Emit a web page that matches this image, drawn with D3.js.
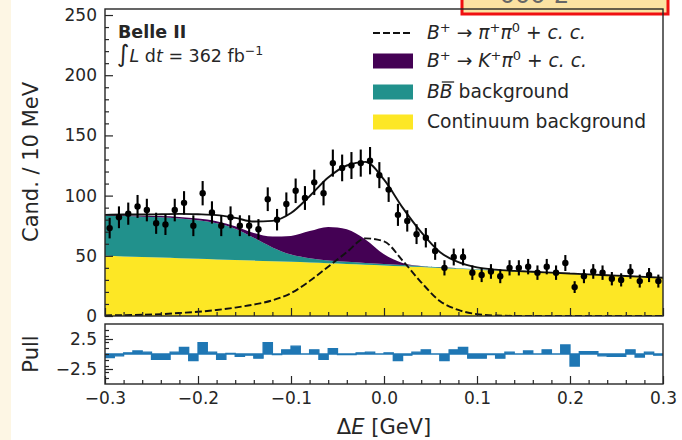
<!DOCTYPE html>
<html>
<head>
<meta charset="utf-8">
<script src="https://cdn.jsdelivr.net/npm/d3@7"></script>
<style>
  body { margin: 0; background: #fff; }
  svg { font-family: "DejaVu Sans", sans-serif; display: block; }
</style>
</head>
<body>
<svg id="chart" width="682" height="440"></svg>
<script>
// measured candidates per 10 MeV bin, delta E from -0.3 to 0.3 GeV
var counts = [73, 82, 85, 91, 88, 77, 76, 88, 94, 75,
              102, 86, 75, 82, 75, 75, 72, 97, 80, 93,
              104, 98, 111, 102, 127, 123, 125, 127, 129, 117,
              105, 84, 79, 68, 65, 54, 40, 49, 49, 36,
              34, 37, 33, 40, 40, 41, 36, 41, 36, 44,
              24, 33, 37, 36, 31, 30, 37, 29, 34, 29];

// pulls per bin
var pulls = [-0.6, -0.3, 0.2, 0.5, 0.3, -0.9, -0.9, 0.3, 1.1, -1.1,
             1.9, 0.3, -0.9, 0.1, -0.4, -0.2, -0.7, 1.9, -0.1, 0.7,
             1.3, 0.0, 0.7, -0.9, 0.9, -0.1, -0.1, 0.2, 0.3, 0.0,
             0.2, -1.1, -0.2, 0.3, 0.7, 0.0, -1.1, 0.7, 1.1, -0.7,
             -0.7, -0.1, -0.7, 0.3, 0.0, 0.5, 0.0, 0.7, 0.0, 1.5,
             -2.0, 0.4, 0.4, -0.3, -0.4, -0.4, 0.7, -0.5, 0.3, -0.2];

// fit components sampled every 20 MeV
var fitX = [-0.30, -0.28, -0.26, -0.24, -0.22, -0.20, -0.18, -0.16, -0.14, -0.12,
            -0.10, -0.08, -0.06, -0.04, -0.02, 0.00, 0.02, 0.04, 0.06, 0.08,
            0.10, 0.12, 0.14, 0.16, 0.18, 0.20, 0.22, 0.24, 0.26, 0.28, 0.30];
var continuum = [50.0, 49.5, 49.0, 48.5, 48.0, 47.5, 47.0, 46.5, 46.0, 45.5,
                 45.0, 44.4, 43.8, 43.2, 42.6, 42.0, 41.3, 40.6, 39.9, 39.2,
                 38.5, 37.8, 37.1, 36.4, 35.7, 35.0, 34.3, 33.6, 32.9, 32.2, 31.5];
var bbBkg = [33.0, 33.5, 33.5, 33.5, 33.0, 32.0, 30.0, 26.0, 19.0, 11.5,
             6.0, 3.6, 2.2, 1.8, 1.4, 1.2, 1.0, 0.8, 0.6, 0.5,
             0.4, 0.3, 0.3, 0.3, 0.3, 0.3, 0.3, 0.3, 0.3, 0.3, 0.3];
var kpi = [0.5, 0.6, 0.8, 1.0, 1.3, 1.5, 1.8, 2.0, 4.0, 9.0,
           15.5, 22.5, 28.0, 27.0, 19.5, 8.0, 1.7, 0.2, 0.1, 0,
           0, 0, 0, 0, 0, 0, 0, 0, 0, 0, 0];
var pipi = [0.5, 0.7, 1.0, 1.5, 2.5, 3.5, 5.0, 7.0, 9.5, 13.0,
            19.0, 29.0, 41.0, 53.0, 64.5, 62.0, 46.0, 28.0, 12.5, 5.0,
            1.5, 0.4, 0.1, 0, 0, 0, 0, 0, 0, 0, 0];

var yTicks = [0, 50, 100, 150, 200, 250];
var xTicks = [-0.3, -0.2, -0.1, 0.0, 0.1, 0.2, 0.3];
var pullTicks = [-2.5, 2.5];

var svg = d3.select("#chart");
var ink = "#262626";
var dash = "7,3";

var x = d3.scaleLinear().domain([-0.3, 0.3]).range([105, 663]);
var y = d3.scaleLinear().domain([0, 255]).range([316, 9]);
var yp = d3.scaleLinear().domain([-5, 5]).range([384, 324]);

// page background bits
svg.append("rect").attr("width", 682).attr("height", 440).attr("fill", "#fff");
svg.append("rect").attr("width", 11).attr("height", 440).attr("fill", "#fdf6e4");
svg.append("rect").attr("x", 462).attr("y", -6).attr("width", 206).attr("height", 20)
  .attr("fill", "#fbe2a2").attr("stroke", "#f01010").attr("stroke-width", 3);
svg.append("text").attr("x", 500).attr("y", 3).attr("font-size", 24).attr("fill", "#666")
  .text("σσσ Σ");

var defs = svg.append("defs");
defs.append("clipPath").attr("id", "clipMain").append("rect")
  .attr("x", 105).attr("y", 9).attr("width", 558).attr("height", 307);
defs.append("clipPath").attr("id", "clipPull").append("rect")
  .attr("x", 105).attr("y", 324).attr("width", 558).attr("height", 60);

// stacked fit components
var rows = fitX.map(function(v, i) {
  return {x: v, continuum: continuum[i], bb: bbBkg[i], kpi: kpi[i]};
});
var stack = d3.stack().keys(["continuum", "bb", "kpi"]);
var colors = {continuum: "#fde725", bb: "#21918c", kpi: "#440154"};

var area = d3.area()
  .x(function(d) { return x(d.data.x); })
  .y0(function(d) { return y(d[0]); })
  .y1(function(d) { return y(d[1]); })
  .curve(d3.curveMonotoneX);

var main = svg.append("g").attr("clip-path", "url(#clipMain)");
main.selectAll("path.comp")
  .data(stack(rows))
  .enter().append("path")
  .attr("class", "comp")
  .attr("d", area)
  .attr("fill", function(d) { return colors[d.key]; });

var line = d3.line()
  .x(function(d) { return x(d[0]); })
  .y(function(d) { return y(d[1]); })
  .curve(d3.curveMonotoneX);

main.append("path")
  .attr("d", line(fitX.map(function(v, i) { return [v, pipi[i]]; })))
  .attr("fill", "none").attr("stroke", "#111").attr("stroke-width", 1.9)
  .attr("stroke-dasharray", dash);

main.append("path")
  .attr("d", line(fitX.map(function(v, i) {
    return [v, continuum[i] + bbBkg[i] + kpi[i] + pipi[i]];
  })))
  .attr("fill", "none").attr("stroke", "#111").attr("stroke-width", 1.9);

// data points
var bins = counts.map(function(c, i) {
  return {x: -0.295 + 0.01 * i, n: c, err: Math.sqrt(c), pull: pulls[i]};
});
main.selectAll("line.err")
  .data(bins)
  .enter().append("line")
  .attr("class", "err")
  .attr("x1", function(d) { return x(d.x); })
  .attr("x2", function(d) { return x(d.x); })
  .attr("y1", function(d) { return y(d.n - d.err); })
  .attr("y2", function(d) { return y(d.n + d.err); })
  .attr("stroke", "#000").attr("stroke-width", 2.1);
main.selectAll("circle.pt")
  .data(bins)
  .enter().append("circle")
  .attr("class", "pt")
  .attr("cx", function(d) { return x(d.x); })
  .attr("cy", function(d) { return y(d.n); })
  .attr("r", 3.2)
  .attr("fill", "#000");

// pull panel, step filled histogram
var steps = [];
bins.forEach(function(d) {
  steps.push([d.x - 0.005, d.pull]);
  steps.push([d.x + 0.005, d.pull]);
});
var pullArea = d3.area()
  .x(function(d) { return x(d[0]); })
  .y0(yp(0))
  .y1(function(d) { return yp(d[1]); });
svg.append("g").attr("clip-path", "url(#clipPull)")
  .append("path")
  .attr("d", pullArea(steps))
  .attr("fill", "#1f77b4").attr("stroke", "#1f77b4").attr("stroke-width", 1.3)
  .attr("stroke-linejoin", "miter");

// axes, ticks pointing inwards
function styleAxis(g) {
  g.select(".domain").remove();
  g.selectAll(".tick line").attr("stroke", ink).attr("stroke-width", 1.2);
  g.selectAll(".tick text").attr("fill", ink).attr("font-size", 17)
    .attr("font-family", "DejaVu Sans");
}

var minorY = d3.range(0, 256, 10).filter(function(v) { return v % 50 !== 0; });
var minorX = d3.range(-14, 15).map(function(k) { return k * 0.02; })
  .filter(function(v) { return Math.abs(Math.round(v * 10) - v * 10) > 1e-6; });
var minorP = [-4, -3, -2, -1, 0, 1, 2, 3, 4];

svg.append("g").attr("transform", "translate(105,0)")
  .call(d3.axisLeft(y).tickValues(yTicks).tickSize(-8).tickPadding(8))
  .call(styleAxis);
svg.append("g").attr("transform", "translate(105,0)")
  .call(d3.axisLeft(y).tickValues(minorY).tickSize(-4).tickFormat(""))
  .call(styleAxis);
svg.append("g").attr("transform", "translate(0,316)")
  .call(d3.axisBottom(x).tickValues(xTicks).tickSize(-8).tickFormat(""))
  .call(styleAxis);
svg.append("g").attr("transform", "translate(0,316)")
  .call(d3.axisBottom(x).tickValues(minorX).tickSize(-4).tickFormat(""))
  .call(styleAxis);

svg.append("g").attr("transform", "translate(105,0)")
  .call(d3.axisLeft(yp).tickValues(pullTicks).tickSize(-8).tickPadding(8).tickFormat(d3.format(".1f")))
  .call(styleAxis);
svg.append("g").attr("transform", "translate(105,0)")
  .call(d3.axisLeft(yp).tickValues(minorP).tickSize(-4).tickFormat(""))
  .call(styleAxis);
svg.append("g").attr("transform", "translate(0,384)")
  .call(d3.axisBottom(x).tickValues(xTicks).tickSize(-8).tickPadding(8).tickFormat(d3.format(".1f")))
  .call(styleAxis);
svg.append("g").attr("transform", "translate(0,384)")
  .call(d3.axisBottom(x).tickValues(minorX).tickSize(-4).tickFormat(""))
  .call(styleAxis);

// spines
[[9, 316], [324, 384]].forEach(function(p) {
  svg.append("rect").attr("x", 105).attr("y", p[0]).attr("width", 558).attr("height", p[1] - p[0])
    .attr("fill", "none").attr("stroke", ink).attr("stroke-width", 1.4);
});

// axis titles
svg.append("text").attr("transform", "translate(38,162) rotate(-90)")
  .attr("text-anchor", "middle").attr("font-size", 21).attr("fill", ink)
  .text("Cand. / 10 MeV");
svg.append("text").attr("transform", "translate(38,354) rotate(-90)")
  .attr("text-anchor", "middle").attr("font-size", 21).attr("fill", ink)
  .text("Pull");
var xt = svg.append("text").attr("x", 384).attr("y", 434).attr("text-anchor", "middle")
  .attr("font-size", 21).attr("fill", ink);
xt.append("tspan").text("Δ");
xt.append("tspan").attr("font-style", "italic").text("E");
xt.append("tspan").text(" [GeV]");

// experiment labels
svg.append("text").attr("x", 118).attr("y", 38).attr("font-size", 17.5).attr("font-weight", "bold")
  .attr("fill", ink).text("Belle II");
var lumi = svg.append("text").attr("x", 117).attr("y", 62).attr("font-size", 17.5).attr("fill", ink);
lumi.append("tspan").attr("font-size", 24).text("∫");
lumi.append("tspan").attr("font-style", "italic").text("L");
lumi.append("tspan").text(" d");
lumi.append("tspan").attr("font-style", "italic").text("t");
lumi.append("tspan").text(" = 362 fb");
lumi.append("tspan").attr("font-size", 12.5).attr("dy", -7.5).text("−1");

// legend
var legend = svg.append("g").attr("font-size", 18.7).attr("fill", ink);
legend.append("line").attr("x1", 373).attr("x2", 413).attr("y1", 33).attr("y2", 33)
  .attr("stroke", "#111").attr("stroke-width", 1.9).attr("stroke-dasharray", dash);
[["#440154", 61], ["#21918c", 92], ["#fde725", 122]].forEach(function(s) {
  legend.append("rect").attr("x", 373).attr("y", s[1] - 7.5).attr("width", 40).attr("height", 15)
    .attr("fill", s[0]);
});
// parts: [text, "i" italic | "s" superscript | "" plain]
function mathLabel(yy, parts) {
  var t = legend.append("text").attr("x", 427).attr("y", yy);
  var up = false;
  parts.forEach(function(p) {
    var ts = t.append("tspan").text(p[0]);
    if (p[1] === "i") ts.attr("font-style", "italic");
    if (p[1] === "s") { ts.attr("font-size", 13).attr("dy", -7); up = true; }
    else if (up) { ts.attr("dy", 7); up = false; }
  });
  return t;
}
mathLabel(39, [["B", "i"], ["+", "s"], [" → ", ""], ["π", "i"], ["+", "s"], ["π", "i"], ["0", "s"], [" + ", ""], ["c. c.", "i"]]);
mathLabel(67, [["B", "i"], ["+", "s"], [" → ", ""], ["K", "i"], ["+", "s"], ["π", "i"], ["0", "s"], [" + ", ""], ["c. c.", "i"]]);
var bbText = mathLabel(98, [["BB", "i"], [" background", ""]]);
var bNode = bbText.node();
var bStart = bNode.getStartPositionOfChar(1).x, bEnd = bNode.getEndPositionOfChar(1).x;
legend.append("line").attr("x1", bStart + 2).attr("x2", bEnd + 1.5).attr("y1", 82).attr("y2", 82)
  .attr("stroke", ink).attr("stroke-width", 1.3);
mathLabel(128, [["Continuum background", ""]]);
</script>
</body>
</html>
